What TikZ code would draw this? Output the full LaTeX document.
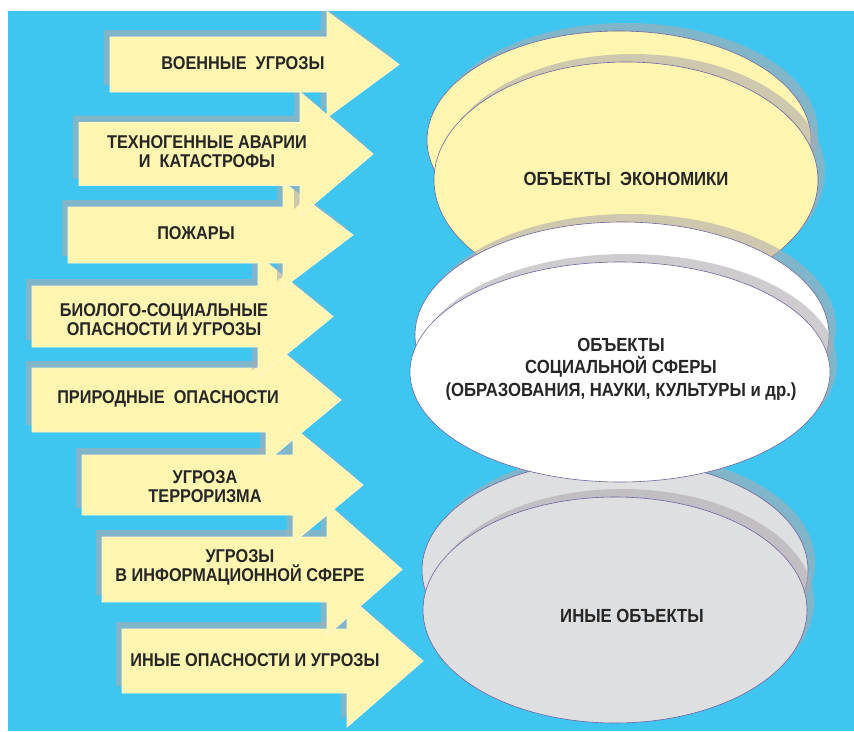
\documentclass[tikz,border=0pt]{standalone}
\usepackage{fontspec}
\setmainfont{Liberation Sans}[FakeStretch=0.88]
\definecolor{bluebg}{RGB}{62,198,241}
\definecolor{arrowyellow}{RGB}{254,245,177}
\definecolor{ovalgray}{RGB}{222,223,225}
\definecolor{ovalline}{RGB}{112,100,160}
\definecolor{shadowc}{RGB}{175,170,175}
\def\myarrow#1#2#3#4#5#6#7{%
  \path[#7] (#1,{#2-#3}) -- (#4,{#2-#3}) -- (#4,{#2-#5}) -- (#6,#2)
    -- (#4,{#2+#5}) -- (#4,{#2+#3}) -- (#1,{#2+#3}) -- cycle;}
\begin{document}
\begin{tikzpicture}[x=1pt,y=-1pt,
  ashadow/.style={fill=shadowc,fill opacity=0.6},
  abody/.style={fill=arrowyellow,draw=arrowyellow!60!white,line width=0.8pt},
  eshadow/.style={fill=shadowc,fill opacity=0.6},
  oval/.style={draw=ovalline,line width=0.6pt},
  lbl/.style={font=\fontsize{18.5}{19}\selectfont\bfseries,align=center,text=black!85,inner sep=0pt},
  olbl/.style={font=\fontsize{19}{22.5}\selectfont\bfseries,align=center,text=black!85,inner sep=0pt}]
\useasboundingbox (0,0) rectangle (854,731);
\fill[bluebg] (8,11) rectangle (854,731);
\begin{scope}
\clip (8,11) rectangle (854,731);
% arrows, drawn from the lowest to the highest
\foreach \xl/\yc/\bh/\hx/\hh/\tp in {
  122/661/32/347/66/423,
  102/569.5/32.5/327/66/402,
  82/485/30/293/58/363,
  32/400/32/266/62/341,
  32/316.5/30.5/258/61/333,
  68/235/28/283/53/353,
  79/154/31.5/300/62/373,
  110/64.5/27.5/327/53/399}{
  \myarrow{\xl-6}{\yc-7}{\bh}{\hx-6}{\hh}{\tp-6}{ashadow}
  \myarrow{\xl}{\yc}{\bh}{\hx}{\hh}{\tp}{abody}
}
% yellow group
\fill[eshadow] (626,132) ellipse [x radius=192,y radius=109];
\path[oval,fill=arrowyellow] (619,140) ellipse [x radius=192,y radius=109];
\fill[eshadow] (633,172) ellipse [x radius=192,y radius=118];
\path[oval,fill=arrowyellow] (626,180) ellipse [x radius=192,y radius=118];
% gray group
\fill[eshadow] (622,562) ellipse [x radius=193,y radius=110];
\path[oval,fill=ovalgray] (615,570) ellipse [x radius=193,y radius=110];
\fill[eshadow] (622,602) ellipse [x radius=192,y radius=113];
\path[oval,fill=ovalgray] (615,610) ellipse [x radius=192,y radius=113];
% white group
\fill[eshadow] (629,327) ellipse [x radius=207,y radius=113];
\path[oval,fill=white] (622,335) ellipse [x radius=207,y radius=113];
\fill[eshadow] (627,364) ellipse [x radius=210,y radius=110];
\path[oval,fill=white] (620,372) ellipse [x radius=210,y radius=110];
\end{scope}
% arrow labels
\node[lbl] (t1) at (243,63) {ВОЕННЫЕ \ УГРОЗЫ};
\node[lbl] (t2) at (207,152) {ТЕХНОГЕННЫЕ АВАРИИ\\И \ КАТАСТРОФЫ};
\node[lbl] (t3) at (196,233) {ПОЖАРЫ};
\node[lbl] (t4) at (164,320) {БИОЛОГО-СОЦИАЛЬНЫЕ\\ОПАСНОСТИ И УГРОЗЫ};
\node[lbl] (t5) at (168,399) {ПРИРОДНЫЕ \ ОПАСНОСТИ};
\node[lbl] (t6) at (205,487) {УГРОЗА\\ТЕРРОРИЗМА};
\node[lbl] (t7) at (240,567) {УГРОЗЫ\\В ИНФОРМАЦИОННОЙ СФЕРЕ};
\node[lbl] (t8) at (255,660) {ИНЫЕ ОПАСНОСТИ И УГРОЗЫ};
% oval labels
\node[olbl] (o1) at (626,179) {ОБЪЕКТЫ \ ЭКОНОМИКИ};
\node[olbl] (o2) at (621,369) {ОБЪЕКТЫ\\СОЦИАЛЬНОЙ СФЕРЫ\\(ОБРАЗОВАНИЯ, НАУКИ, КУЛЬТУРЫ и др.)};
\node[olbl] (o3) at (632,616) {ИНЫЕ ОБЪЕКТЫ};
\end{tikzpicture}
\end{document}
